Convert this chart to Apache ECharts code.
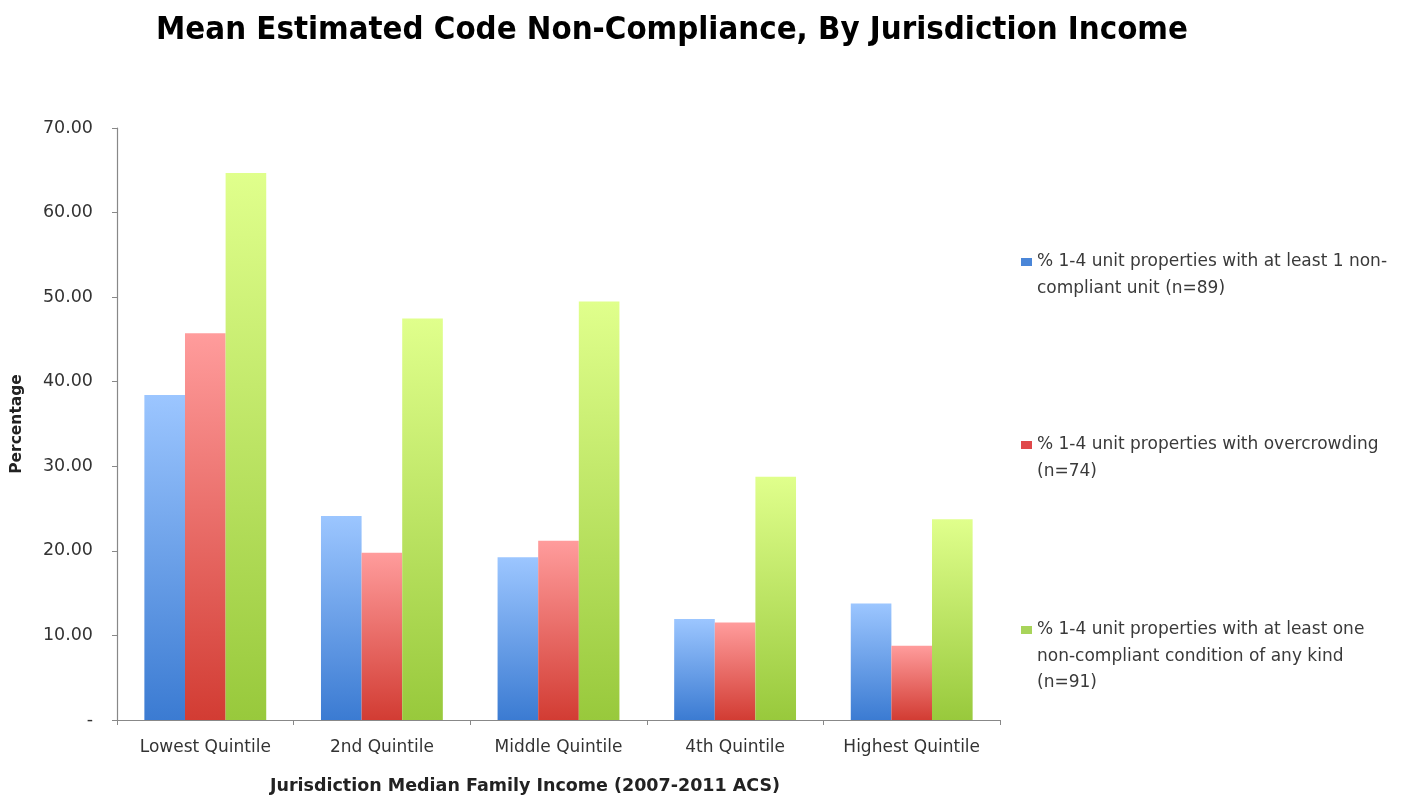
<!DOCTYPE html>
<html>
<head>
<meta charset="utf-8">
<script src="https://cdn.jsdelivr.net/npm/echarts@6/dist/echarts.min.js"></script>
<style>html,body{margin:0;padding:0;background:#fff;}#c{width:1424px;height:795px;}</style>
</head>
<body>
<div id="c"></div>
<script>
const categories = ['Lowest Quintile', '2nd Quintile', 'Middle Quintile', '4th Quintile', 'Highest Quintile'];
const seriesNames = [
  '% 1-4 unit properties with at least 1 non-compliant unit (n=89)',
  '% 1-4 unit properties with overcrowding (n=74)',
  '% 1-4 unit properties with at least one non-compliant condition of any kind (n=91)'
];
const legendLines = [
  ['% 1-4 unit properties with at least 1 non-', 'compliant unit (n=89)'],
  ['% 1-4 unit properties with overcrowding', '(n=74)'],
  ['% 1-4 unit properties with at least one', 'non-compliant condition of any kind', '(n=91)']
];
const nonCompliantUnit = [38.44, 24.12, 19.23, 11.93, 13.79];
const overcrowding = [45.74, 19.78, 21.20, 11.54, 8.77];
const anyCondition = [64.67, 47.47, 49.48, 28.77, 23.73];
const yTicks = { min: 0, max: 70, interval: 10 };

const values = [nonCompliantUnit, overcrowding, anyCondition];
const grads = [
  ['#9cc6ff', '#3b7bd2'],
  ['#ff9c9c', '#d23c33'],
  ['#e0ff8c', '#98c93c']
];
const legendIcon = ['#4a86d8', '#e0484a', '#a8d45a'];
const FONT = 'DejaVu Sans';

function grad(c) {
  return new echarts.graphic.LinearGradient(0, 0, 0, 1, [
    { offset: 0, color: c[0] }, { offset: 1, color: c[1] }
  ]);
}

const lh = 26.5;
const legendCenters = [262, 445, 630];
const legends = seriesNames.map((n, i) => {
  const lines = legendLines[i];
  const pad = lines.length - 1;
  const k = lines.length + pad;
  return {
    show: true,
    data: [{ name: n, itemStyle: { color: legendIcon[i] } }],
    orient: 'vertical',
    left: 1021,
    top: legendCenters[i] - k * lh / 2,
    padding: 0,
    itemWidth: 11,
    itemHeight: 8,
    itemGap: 6,
    selectedMode: false,
    icon: 'rect',
    formatter: () => new Array(pad).fill('').concat(lines).join('\n'),
    textStyle: { fontFamily: FONT, fontSize: 17, color: '#3a3a3a', lineHeight: lh }
  };
});

const chart = echarts.init(document.getElementById('c'), null, { renderer: 'canvas' });
chart.setOption({
  animation: false,
  backgroundColor: '#ffffff',
  title: [
    {
      text: 'Mean Estimated Code Non-Compliance, By Jurisdiction Income',
      left: 667, top: 9, textAlign: 'center',
      textStyle: { fontFamily: 'Liberation Sans Narrow, DejaVu Sans Condensed, sans-serif', fontWeight: 'bold', fontSize: 32.7, color: '#000' }
    },
    {
      text: 'Jurisdiction Median Family Income (2007-2011 ACS)',
      left: 520, top: 772, textAlign: 'center',
      textStyle: { fontFamily: FONT, fontWeight: 'bold', fontSize: 17.5, color: '#222' }
    }
  ],
  legend: legends,
  grid: { left: 117, right: 424, top: 128, bottom: 75, containLabel: false, outerBoundsMode: 'none' },
  xAxis: {
    type: 'category',
    data: categories,
    axisLine: { lineStyle: { color: '#888', width: 1.2 } },
    axisTick: { show: true, length: 5, inside: false, interval: 0, lineStyle: { color: '#888' } },
    axisLabel: { interval: 0, fontFamily: FONT, fontSize: 17, color: '#333', margin: 19, overflow: 'none', hideOverlap: false }
  },
  yAxis: {
    type: 'value',
    min: yTicks.min, max: yTicks.max, interval: yTicks.interval,
    name: 'Percentage',
    nameLocation: 'middle',
    nameGap: 92,
    nameTextStyle: { fontFamily: FONT, fontWeight: 'bold', fontSize: 15.5, color: '#222' },
    axisLine: { show: true, lineStyle: { color: '#888', width: 1.2 } },
    axisTick: { show: true, length: 5, lineStyle: { color: '#888' } },
    splitLine: { show: false },
    axisLabel: {
      fontFamily: FONT, fontSize: 17.5, color: '#333', margin: 24,
      formatter: v => v === 0 ? '-' : v.toFixed(2)
    }
  },
  series: values.map((d, i) => ({
    type: 'bar',
    name: seriesNames[i],
    data: d,
    barGap: '0%',
    barCategoryGap: '31%',
    itemStyle: { color: grad(grads[i]) }
  }))
});
</script>
</body>
</html>
